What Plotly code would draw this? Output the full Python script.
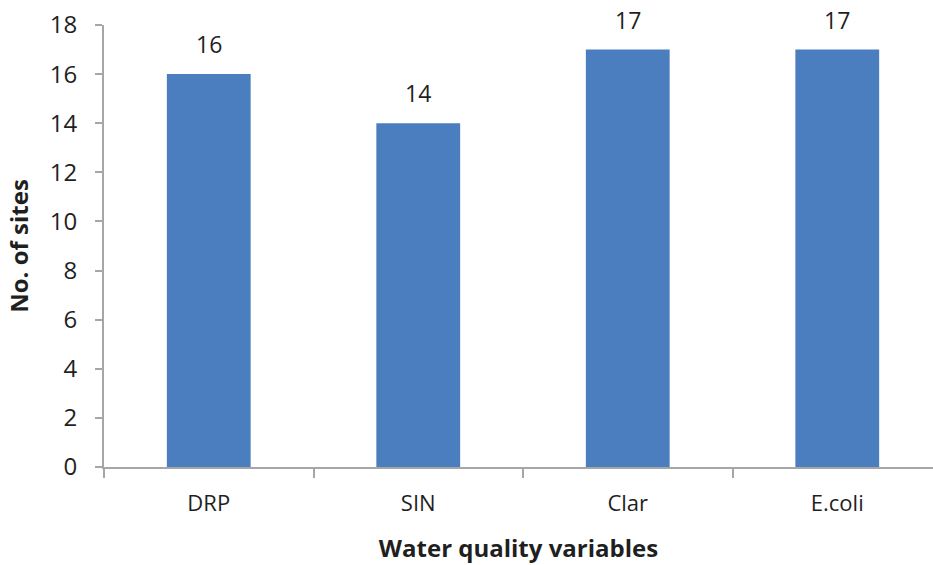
import plotly.graph_objects as go

# Number of sites per water quality variable
categories = ["DRP", "SIN", "Clar", "E.coli"]
site_counts = [16, 14, 17, 17]
y_ticks = [0, 2, 4, 6, 8, 10, 12, 14, 16, 18]

bar_color = "#4A7EBF"
axis_color = "#A6A6A6"
text_color = "#1F1F1F"
font_family = "'Open Sans', sans-serif"

fig = go.Figure(
    go.Bar(
        x=categories,
        y=site_counts,
        width=0.4,
        marker=dict(color=bar_color, line=dict(width=0)),
        hoverinfo="skip",
    )
)

# value labels above each bar
for cat, val in zip(categories, site_counts):
    fig.add_annotation(
        x=cat, y=val, text=str(val), showarrow=False,
        yanchor="bottom", yshift=12,
        font=dict(size=23, color=text_color, family=font_family),
    )

fig.update_layout(
    width=933, height=565,
    margin=dict(l=104, r=0, t=25, b=98),
    plot_bgcolor="white", paper_bgcolor="white",
    showlegend=False,
    font=dict(family=font_family, color=text_color),
)

fig.update_xaxes(
    range=[-0.5, 3.457],
    showline=True, linecolor=axis_color, linewidth=2,
    ticks="outside", tickson="boundaries", ticklen=9, tickcolor=axis_color, tickwidth=2,
    showgrid=False, zeroline=False,
    ticklabelstandoff=16,
    tickfont=dict(size=22, color=text_color),
    title=dict(text="<b>Water quality variables</b>", font=dict(size=24, color=text_color), standoff=24),
)

fig.update_yaxes(
    range=[0, 18],
    tickvals=y_ticks,
    showline=True, linecolor=axis_color, linewidth=2,
    ticks="outside", ticklen=7, tickcolor=axis_color, tickwidth=2,
    showgrid=False, zeroline=False,
    ticklabelstandoff=13,
    tickfont=dict(size=24, color=text_color),
    title=dict(text="<b>No. of sites</b>", font=dict(size=24, color=text_color), standoff=14),
)

fig.write_html("out.html")
